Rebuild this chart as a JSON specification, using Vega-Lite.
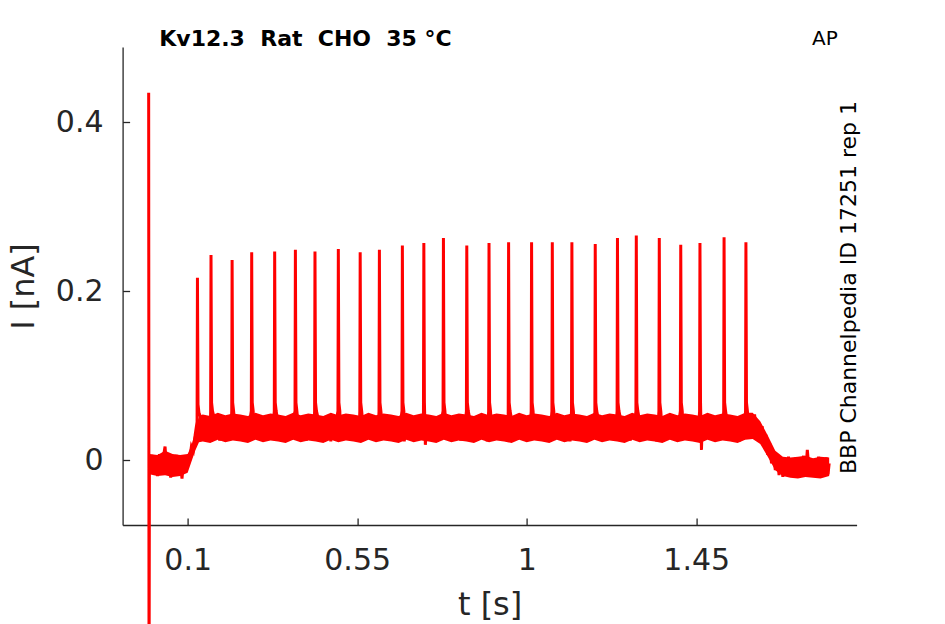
{
  "$schema": "https://vega.github.io/schema/vega-lite/v6.json",
  "width": 734,
  "height": 478,
  "autosize": "none",
  "padding": {"left": 122.6, "top": 47, "right": 88.3, "bottom": 99},
  "background": "white",
  "config": {"view": {"stroke": null}, "font": "DejaVu Sans"},
  "title": {"text": "Kv12.3\u00a0 Rat\u00a0 CHO\u00a0 35 °C", "anchor": "start", "frame": "group", "dx": 36.7, "fontSize": 22, "font": "DejaVu Sans", "fontWeight": "bold", "color": "#000000", "baseline": "alphabetic", "offset": -38.7},
  "datasets": {
    "band": [
{"t":-0.002,"lo":-0.017,"hi":0.007},{"t":0.02,"lo":-0.019,"hi":0.006},{"t":0.04,"lo":-0.018,"hi":0.011},{"t":0.06,"lo":-0.020,"hi":0.007},{"t":0.08,"lo":-0.019,"hi":0.006},{"t":0.10,"lo":-0.015,"hi":0.007},
{"t":0.11,"lo":-0.002,"hi":0.017},{"t":0.12,"lo":0.011,"hi":0.034},{"t":0.13,"lo":0.021,"hi":0.052},
{"t":0.14,"lo":0.022,"hi":0.054},{"t":0.16,"lo":0.020,"hi":0.052},{"t":0.18,"lo":0.024,"hi":0.056},{"t":0.20,"lo":0.021,"hi":0.053},{"t":0.22,"lo":0.023,"hi":0.055},{"t":0.24,"lo":0.022,"hi":0.054},{"t":0.26,"lo":0.020,"hi":0.052},{"t":0.28,"lo":0.024,"hi":0.056},{"t":0.30,"lo":0.021,"hi":0.053},{"t":0.32,"lo":0.023,"hi":0.055},
{"t":0.34,"lo":0.022,"hi":0.054},{"t":0.36,"lo":0.020,"hi":0.052},{"t":0.38,"lo":0.024,"hi":0.056},{"t":0.40,"lo":0.021,"hi":0.053},{"t":0.42,"lo":0.023,"hi":0.055},{"t":0.44,"lo":0.022,"hi":0.054},{"t":0.46,"lo":0.020,"hi":0.052},{"t":0.48,"lo":0.024,"hi":0.056},{"t":0.50,"lo":0.021,"hi":0.053},{"t":0.52,"lo":0.023,"hi":0.055},
{"t":0.54,"lo":0.022,"hi":0.054},{"t":0.56,"lo":0.020,"hi":0.052},{"t":0.58,"lo":0.024,"hi":0.056},{"t":0.60,"lo":0.021,"hi":0.053},{"t":0.62,"lo":0.023,"hi":0.055},{"t":0.64,"lo":0.022,"hi":0.054},{"t":0.66,"lo":0.020,"hi":0.052},{"t":0.68,"lo":0.024,"hi":0.056},{"t":0.70,"lo":0.021,"hi":0.053},{"t":0.72,"lo":0.023,"hi":0.055},
{"t":0.74,"lo":0.022,"hi":0.054},{"t":0.76,"lo":0.020,"hi":0.052},{"t":0.78,"lo":0.024,"hi":0.056},{"t":0.80,"lo":0.021,"hi":0.053},{"t":0.82,"lo":0.023,"hi":0.055},{"t":0.84,"lo":0.022,"hi":0.054},{"t":0.86,"lo":0.020,"hi":0.052},{"t":0.88,"lo":0.024,"hi":0.056},{"t":0.90,"lo":0.021,"hi":0.053},{"t":0.92,"lo":0.023,"hi":0.055},
{"t":0.94,"lo":0.022,"hi":0.054},{"t":0.96,"lo":0.020,"hi":0.052},{"t":0.98,"lo":0.024,"hi":0.056},{"t":1.00,"lo":0.021,"hi":0.053},{"t":1.02,"lo":0.023,"hi":0.055},{"t":1.04,"lo":0.022,"hi":0.054},{"t":1.06,"lo":0.020,"hi":0.052},{"t":1.08,"lo":0.024,"hi":0.056},{"t":1.10,"lo":0.021,"hi":0.053},{"t":1.12,"lo":0.023,"hi":0.055},
{"t":1.14,"lo":0.022,"hi":0.054},{"t":1.16,"lo":0.020,"hi":0.052},{"t":1.18,"lo":0.024,"hi":0.056},{"t":1.20,"lo":0.021,"hi":0.053},{"t":1.22,"lo":0.023,"hi":0.055},{"t":1.24,"lo":0.022,"hi":0.054},{"t":1.26,"lo":0.020,"hi":0.052},{"t":1.28,"lo":0.024,"hi":0.056},{"t":1.30,"lo":0.021,"hi":0.053},{"t":1.32,"lo":0.023,"hi":0.055},
{"t":1.34,"lo":0.022,"hi":0.054},{"t":1.36,"lo":0.020,"hi":0.052},{"t":1.38,"lo":0.024,"hi":0.056},{"t":1.40,"lo":0.021,"hi":0.053},{"t":1.42,"lo":0.023,"hi":0.055},{"t":1.44,"lo":0.022,"hi":0.054},{"t":1.46,"lo":0.020,"hi":0.052},{"t":1.48,"lo":0.024,"hi":0.056},{"t":1.50,"lo":0.021,"hi":0.053},{"t":1.52,"lo":0.023,"hi":0.055},
{"t":1.54,"lo":0.022,"hi":0.054},{"t":1.56,"lo":0.020,"hi":0.052},{"t":1.58,"lo":0.024,"hi":0.056},{"t":1.60,"lo":0.025,"hi":0.056},{"t":1.62,"lo":0.019,"hi":0.046},{"t":1.64,"lo":0.004,"hi":0.029},{"t":1.66,"lo":-0.012,"hi":0.011},{"t":1.68,"lo":-0.019,"hi":0.004},
{"t":1.70,"lo":-0.021,"hi":0.003},{"t":1.72,"lo":-0.022,"hi":0.004},{"t":1.74,"lo":-0.020,"hi":0.005},{"t":1.76,"lo":-0.021,"hi":0.002},{"t":1.78,"lo":-0.022,"hi":0.004},{"t":1.803,"lo":-0.019,"hi":0.003}
    ],
    "trace": [
{"t":-0.0035,"i":0.435},{"t":-0.0025,"i":-0.3},{"t":-0.0015,"i":0.001},{"t":0.0025,"i":-0.013},
{"t":0.005,"i":0.006},{"t":0.010,"i":-0.015},{"t":0.015,"i":0.000},{"t":0.020,"i":-0.019},{"t":0.025,"i":0.007},{"t":0.030,"i":-0.010},{"t":0.035,"i":0.002},{"t":0.040,"i":0.016},{"t":0.045,"i":-0.017},{"t":0.050,"i":0.003},{"t":0.055,"i":-0.021},{"t":0.060,"i":0.004},{"t":0.065,"i":-0.012},{"t":0.070,"i":0.006},{"t":0.075,"i":-0.016},{"t":0.080,"i":-0.001},{"t":0.085,"i":-0.022},{"t":0.090,"i":0.003},{"t":0.095,"i":-0.014},{"t":0.100,"i":0.001},
{"t":0.105,"i":0.000},{"t":0.110,"i":0.016},{"t":0.115,"i":0.011},{"t":0.120,"i":0.030},
{"t":0.125,"i":0.045},{"t":0.126,"i":0.216},{"t":0.1275,"i":0.066},{"t":0.130,"i":0.056},
{"t":0.135,"i":0.050},{"t":0.140,"i":0.028},{"t":0.145,"i":0.043},{"t":0.150,"i":0.024},{"t":0.155,"i":0.047},{"t":0.160,"i":0.032},
{"t":0.161,"i":0.058},{"t":0.162,"i":0.243},{"t":0.1635,"i":0.068},{"t":0.166,"i":0.058},
{"t":0.170,"i":0.051},{"t":0.175,"i":0.027},{"t":0.180,"i":0.040},{"t":0.185,"i":0.023},{"t":0.190,"i":0.048},{"t":0.195,"i":0.034},{"t":0.200,"i":0.046},{"t":0.205,"i":0.026},{"t":0.210,"i":0.052},{"t":0.215,"i":0.031},
{"t":0.217,"i":0.058},{"t":0.218,"i":0.237},{"t":0.2195,"i":0.068},{"t":0.222,"i":0.058},
{"t":0.225,"i":0.042},{"t":0.230,"i":0.025},{"t":0.235,"i":0.049},{"t":0.240,"i":0.029},{"t":0.245,"i":0.044},{"t":0.250,"i":0.022},{"t":0.255,"i":0.050},{"t":0.260,"i":0.033},{"t":0.265,"i":0.047},
{"t":0.269,"i":0.058},{"t":0.270,"i":0.246},{"t":0.2715,"i":0.068},{"t":0.274,"i":0.058},
{"t":0.275,"i":0.028},{"t":0.280,"i":0.041},{"t":0.285,"i":0.026},{"t":0.290,"i":0.051},{"t":0.295,"i":0.030},{"t":0.300,"i":0.045},{"t":0.305,"i":0.024},{"t":0.310,"i":0.048},{"t":0.315,"i":0.035},{"t":0.320,"i":0.049},{"t":0.325,"i":0.027},
{"t":0.330,"i":0.058},{"t":0.331,"i":0.247},{"t":0.3325,"i":0.068},{"t":0.335,"i":0.058},
{"t":0.340,"i":0.043},{"t":0.345,"i":0.029},{"t":0.350,"i":0.052},{"t":0.355,"i":0.025},{"t":0.360,"i":0.050},{"t":0.365,"i":0.028},{"t":0.370,"i":0.043},{"t":0.375,"i":0.024},{"t":0.380,"i":0.047},
{"t":0.385,"i":0.058},{"t":0.386,"i":0.249},{"t":0.3875,"i":0.068},{"t":0.390,"i":0.058},
{"t":0.395,"i":0.032},{"t":0.400,"i":0.051},{"t":0.405,"i":0.027},{"t":0.410,"i":0.040},{"t":0.415,"i":0.023},{"t":0.420,"i":0.048},{"t":0.425,"i":0.034},{"t":0.430,"i":0.046},{"t":0.435,"i":0.026},
{"t":0.437,"i":0.058},{"t":0.438,"i":0.247},{"t":0.4395,"i":0.068},{"t":0.442,"i":0.058},
{"t":0.445,"i":0.052},{"t":0.450,"i":0.031},{"t":0.455,"i":0.042},{"t":0.460,"i":0.025},{"t":0.465,"i":0.049},{"t":0.470,"i":0.029},{"t":0.475,"i":0.044},{"t":0.480,"i":0.022},{"t":0.485,"i":0.050},{"t":0.490,"i":0.033},{"t":0.495,"i":0.047},
{"t":0.499,"i":0.058},{"t":0.500,"i":0.250},{"t":0.5015,"i":0.068},{"t":0.504,"i":0.058},
{"t":0.505,"i":0.028},{"t":0.510,"i":0.041},{"t":0.515,"i":0.026},{"t":0.520,"i":0.051},{"t":0.525,"i":0.030},{"t":0.530,"i":0.045},{"t":0.535,"i":0.024},{"t":0.540,"i":0.048},{"t":0.545,"i":0.035},{"t":0.550,"i":0.049},{"t":0.555,"i":0.027},
{"t":0.557,"i":0.058},{"t":0.558,"i":0.246},{"t":0.5595,"i":0.068},{"t":0.562,"i":0.058},
{"t":0.565,"i":0.043},{"t":0.570,"i":0.029},{"t":0.575,"i":0.052},{"t":0.580,"i":0.025},{"t":0.585,"i":0.032},{"t":0.590,"i":0.051},{"t":0.595,"i":0.027},{"t":0.600,"i":0.040},{"t":0.605,"i":0.023},
{"t":0.608,"i":0.058},{"t":0.609,"i":0.249},{"t":0.6105,"i":0.068},{"t":0.613,"i":0.058},
{"t":0.615,"i":0.048},{"t":0.620,"i":0.034},{"t":0.625,"i":0.046},{"t":0.630,"i":0.026},{"t":0.635,"i":0.052},{"t":0.640,"i":0.031},{"t":0.645,"i":0.042},{"t":0.650,"i":0.025},{"t":0.655,"i":0.049},{"t":0.660,"i":0.029},{"t":0.665,"i":0.044},
{"t":0.669,"i":0.058},{"t":0.670,"i":0.254},{"t":0.6715,"i":0.068},{"t":0.674,"i":0.058},
{"t":0.675,"i":0.022},{"t":0.680,"i":0.050},{"t":0.685,"i":0.033},{"t":0.690,"i":0.047},{"t":0.695,"i":0.028},{"t":0.700,"i":0.041},{"t":0.705,"i":0.026},{"t":0.710,"i":0.051},{"t":0.715,"i":0.030},{"t":0.720,"i":0.045},{"t":0.725,"i":0.024},
{"t":0.726,"i":0.058},{"t":0.727,"i":0.257},{"t":0.7285,"i":0.068},{"t":0.731,"i":0.018},
{"t":0.735,"i":0.048},{"t":0.740,"i":0.035},{"t":0.745,"i":0.049},{"t":0.750,"i":0.027},{"t":0.755,"i":0.043},{"t":0.760,"i":0.029},{"t":0.765,"i":0.052},{"t":0.770,"i":0.025},{"t":0.775,"i":0.050},
{"t":0.778,"i":0.058},{"t":0.779,"i":0.263},{"t":0.7805,"i":0.068},{"t":0.783,"i":0.058},
{"t":0.785,"i":0.028},{"t":0.790,"i":0.043},{"t":0.795,"i":0.024},{"t":0.800,"i":0.047},{"t":0.805,"i":0.032},{"t":0.810,"i":0.051},{"t":0.815,"i":0.027},{"t":0.820,"i":0.040},{"t":0.825,"i":0.023},{"t":0.830,"i":0.048},{"t":0.835,"i":0.034},
{"t":0.840,"i":0.058},{"t":0.841,"i":0.254},{"t":0.8425,"i":0.068},{"t":0.845,"i":0.058},
{"t":0.850,"i":0.046},{"t":0.855,"i":0.026},{"t":0.860,"i":0.052},{"t":0.865,"i":0.031},{"t":0.870,"i":0.042},{"t":0.875,"i":0.025},{"t":0.880,"i":0.049},{"t":0.885,"i":0.029},{"t":0.890,"i":0.044},{"t":0.895,"i":0.022},
{"t":0.899,"i":0.058},{"t":0.900,"i":0.257},{"t":0.9015,"i":0.068},{"t":0.904,"i":0.058},
{"t":0.905,"i":0.050},{"t":0.910,"i":0.033},{"t":0.915,"i":0.047},{"t":0.920,"i":0.028},{"t":0.925,"i":0.041},{"t":0.930,"i":0.026},{"t":0.935,"i":0.051},{"t":0.940,"i":0.030},{"t":0.945,"i":0.045},{"t":0.950,"i":0.024},
{"t":0.951,"i":0.058},{"t":0.952,"i":0.258},{"t":0.9535,"i":0.068},{"t":0.956,"i":0.058},
{"t":0.960,"i":0.048},{"t":0.965,"i":0.035},{"t":0.970,"i":0.049},{"t":0.975,"i":0.027},{"t":0.980,"i":0.043},{"t":0.985,"i":0.029},{"t":0.990,"i":0.052},{"t":0.995,"i":0.025},{"t":1.000,"i":0.050},{"t":1.005,"i":0.028},{"t":1.010,"i":0.043},
{"t":1.012,"i":0.058},{"t":1.013,"i":0.258},{"t":1.0145,"i":0.068},{"t":1.017,"i":0.058},
{"t":1.020,"i":0.024},{"t":1.025,"i":0.047},{"t":1.030,"i":0.032},{"t":1.035,"i":0.051},{"t":1.040,"i":0.027},{"t":1.045,"i":0.040},{"t":1.050,"i":0.023},{"t":1.055,"i":0.048},{"t":1.060,"i":0.034},{"t":1.065,"i":0.046},
{"t":1.067,"i":0.058},{"t":1.068,"i":0.258},{"t":1.0695,"i":0.068},{"t":1.072,"i":0.058},
{"t":1.075,"i":0.026},{"t":1.080,"i":0.052},{"t":1.085,"i":0.031},{"t":1.090,"i":0.042},{"t":1.095,"i":0.025},{"t":1.100,"i":0.049},{"t":1.105,"i":0.029},{"t":1.110,"i":0.044},{"t":1.115,"i":0.022},
{"t":1.119,"i":0.058},{"t":1.120,"i":0.258},{"t":1.1215,"i":0.068},{"t":1.124,"i":0.058},
{"t":1.125,"i":0.050},{"t":1.130,"i":0.033},{"t":1.135,"i":0.047},{"t":1.140,"i":0.028},{"t":1.145,"i":0.041},{"t":1.150,"i":0.026},{"t":1.155,"i":0.051},{"t":1.160,"i":0.030},{"t":1.165,"i":0.045},{"t":1.170,"i":0.024},{"t":1.175,"i":0.048},{"t":1.180,"i":0.035},
{"t":1.181,"i":0.058},{"t":1.182,"i":0.256},{"t":1.1835,"i":0.068},{"t":1.186,"i":0.058},
{"t":1.190,"i":0.049},{"t":1.195,"i":0.027},{"t":1.200,"i":0.043},{"t":1.205,"i":0.029},{"t":1.210,"i":0.052},{"t":1.215,"i":0.025},{"t":1.220,"i":0.050},{"t":1.225,"i":0.028},{"t":1.230,"i":0.043},{"t":1.235,"i":0.024},
{"t":1.240,"i":0.058},{"t":1.241,"i":0.263},{"t":1.2425,"i":0.068},{"t":1.245,"i":0.058},
{"t":1.250,"i":0.047},{"t":1.255,"i":0.032},{"t":1.260,"i":0.051},{"t":1.265,"i":0.027},{"t":1.270,"i":0.040},{"t":1.275,"i":0.023},{"t":1.280,"i":0.048},{"t":1.285,"i":0.034},
{"t":1.290,"i":0.058},{"t":1.291,"i":0.266},{"t":1.2925,"i":0.068},{"t":1.295,"i":0.058},
{"t":1.300,"i":0.046},{"t":1.305,"i":0.026},{"t":1.310,"i":0.052},{"t":1.315,"i":0.031},{"t":1.320,"i":0.042},{"t":1.325,"i":0.025},{"t":1.330,"i":0.049},{"t":1.335,"i":0.029},{"t":1.340,"i":0.044},{"t":1.345,"i":0.022},{"t":1.350,"i":0.050},
{"t":1.351,"i":0.058},{"t":1.352,"i":0.263},{"t":1.3535,"i":0.068},{"t":1.356,"i":0.058},
{"t":1.360,"i":0.033},{"t":1.365,"i":0.047},{"t":1.370,"i":0.028},{"t":1.375,"i":0.041},{"t":1.380,"i":0.026},{"t":1.385,"i":0.051},{"t":1.390,"i":0.030},{"t":1.395,"i":0.045},{"t":1.400,"i":0.024},{"t":1.405,"i":0.048},
{"t":1.408,"i":0.058},{"t":1.409,"i":0.255},{"t":1.4105,"i":0.068},{"t":1.413,"i":0.058},
{"t":1.415,"i":0.035},{"t":1.420,"i":0.049},{"t":1.425,"i":0.027},{"t":1.430,"i":0.043},{"t":1.435,"i":0.029},{"t":1.440,"i":0.052},{"t":1.445,"i":0.025},{"t":1.450,"i":0.050},{"t":1.455,"i":0.028},
{"t":1.459,"i":0.058},{"t":1.460,"i":0.257},{"t":1.4615,"i":0.068},{"t":1.464,"i":0.012},
{"t":1.466,"i":0.043},{"t":1.470,"i":0.024},{"t":1.475,"i":0.047},{"t":1.480,"i":0.032},{"t":1.485,"i":0.051},{"t":1.490,"i":0.027},{"t":1.495,"i":0.040},{"t":1.500,"i":0.023},{"t":1.505,"i":0.048},{"t":1.510,"i":0.034},{"t":1.515,"i":0.046},{"t":1.520,"i":0.026},
{"t":1.523,"i":0.058},{"t":1.524,"i":0.264},{"t":1.5255,"i":0.068},{"t":1.528,"i":0.058},
{"t":1.530,"i":0.052},{"t":1.535,"i":0.031},{"t":1.540,"i":0.042},{"t":1.545,"i":0.025},{"t":1.550,"i":0.049},{"t":1.555,"i":0.029},{"t":1.560,"i":0.044},{"t":1.565,"i":0.022},{"t":1.570,"i":0.050},{"t":1.575,"i":0.033},{"t":1.580,"i":0.047},
{"t":1.581,"i":0.058},{"t":1.582,"i":0.258},{"t":1.5835,"i":0.068},{"t":1.586,"i":0.058},
{"t":1.590,"i":0.030},{"t":1.595,"i":0.053},{"t":1.600,"i":0.036},{"t":1.605,"i":0.054},{"t":1.610,"i":0.030},{"t":1.615,"i":0.046},
{"t":1.620,"i":0.024},{"t":1.625,"i":0.040},{"t":1.630,"i":0.016},{"t":1.635,"i":0.030},{"t":1.640,"i":0.006},{"t":1.645,"i":0.020},{"t":1.650,"i":-0.004},{"t":1.655,"i":0.010},{"t":1.660,"i":-0.012},{"t":1.665,"i":0.004},{"t":1.670,"i":-0.018},
{"t":1.675,"i":0.003},{"t":1.680,"i":-0.020},{"t":1.685,"i":0.001},{"t":1.690,"i":-0.016},{"t":1.695,"i":0.004},{"t":1.700,"i":-0.019},{"t":1.705,"i":-0.001},{"t":1.710,"i":-0.014},{"t":1.715,"i":0.003},{"t":1.720,"i":-0.021},{"t":1.725,"i":0.000},{"t":1.730,"i":-0.015},{"t":1.735,"i":0.005},{"t":1.740,"i":-0.018},{"t":1.745,"i":0.012},{"t":1.750,"i":-0.013},{"t":1.755,"i":0.002},{"t":1.760,"i":-0.020},{"t":1.765,"i":-0.002},{"t":1.770,"i":-0.016},{"t":1.775,"i":0.004},{"t":1.780,"i":-0.019},{"t":1.785,"i":0.001},{"t":1.790,"i":-0.014},{"t":1.795,"i":0.003},{"t":1.800,"i":-0.017},{"t":1.803,"i":-0.004}
    ]
  },
  "layer": [
    {
      "data": {"name": "band"},
      "mark": {"type": "area", "color": "#ff0000", "opacity": 1, "clip": false},
      "encoding": {
        "x": {
          "field": "t", "type": "quantitative", "title": "t [s]",
          "scale": {"domain": [-0.0727, 1.8758], "nice": false, "zero": false},
          "axis": {"title": "t [s]", "values": [0.1, 0.55, 1, 1.45], "format": ".3~g", "grid": false,
                   "tickSize": -7, "labelPadding": 28, "titlePadding": 14,
                   "labelFontSize": 30, "titleFontSize": 32, "labelFont": "DejaVu Sans", "titleFont": "DejaVu Sans",
                   "titleFontWeight": "normal", "domainColor": "#262626", "tickColor": "#262626",
                   "labelColor": "#262626", "titleColor": "#262626", "domainWidth": 1.3, "tickWidth": 1.3,
                   "labelFlush": false, "labelOverlap": false}
        },
        "y": {
          "field": "lo", "type": "quantitative", "title": "I [nA]",
          "scale": {"domain": [-0.077, 0.4893], "nice": false, "zero": false},
          "axis": {"title": "I [nA]", "values": [0, 0.2, 0.4], "format": "~g", "grid": false,
                   "tickSize": -7, "labelPadding": 26.6, "titlePadding": 15,
                   "labelFontSize": 30, "titleFontSize": 32, "labelFont": "DejaVu Sans", "titleFont": "DejaVu Sans",
                   "titleFontWeight": "normal", "domainColor": "#262626", "tickColor": "#262626",
                   "labelColor": "#262626", "titleColor": "#262626", "domainWidth": 1.3, "tickWidth": 1.3,
                   "labelFlush": false, "labelOverlap": false}
        },
        "y2": {"field": "hi"}
      }
    },
    {
      "data": {"name": "trace"},
      "mark": {"type": "line", "color": "#ff0000", "strokeWidth": 3, "clip": false},
      "encoding": {
        "x": {"field": "t", "type": "quantitative", "title": "t [s]"},
        "y": {"field": "i", "type": "quantitative", "title": "I [nA]"}
      }
    },
    {
      "data": {"values": [{"label": "AP"}]},
      "mark": {"type": "text", "fontSize": 20, "font": "DejaVu Sans", "color": "#000000", "align": "center", "baseline": "middle", "clip": false},
      "encoding": {
        "x": {"datum": 1.7917, "type": "quantitative"},
        "y": {"datum": 0.4987, "type": "quantitative"},
        "text": {"field": "label"}
      }
    },
    {
      "data": {"values": [{"label": "BBP Channelpedia ID 17251 rep 1"}]},
      "mark": {"type": "text", "fontSize": 22, "font": "DejaVu Sans", "color": "#000000", "align": "center", "baseline": "middle", "angle": 270, "clip": false},
      "encoding": {
        "x": {"datum": 1.8567, "type": "quantitative"},
        "y": {"datum": 0.2044, "type": "quantitative"},
        "text": {"field": "label"}
      }
    }
  ]
}
